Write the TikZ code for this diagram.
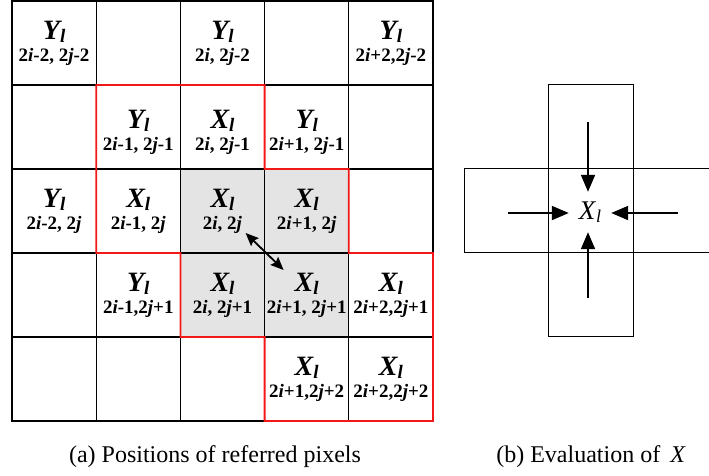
\documentclass[tikz,border=0pt]{standalone}
\usepackage{fontspec}
\setmainfont{Liberation Serif}
\usetikzlibrary{arrows.meta,calc}
\definecolor{cellgray}{RGB}{228,228,228}
\definecolor{winred}{RGB}{242,24,24}
\newcommand\ii{\textit{i}}
\newcommand\jj{\textit{j}}
\newcommand\XY[3][0pt]{{\fontsize{28}{28}\selectfont\bfseries\itshape\rule{0pt}{\dimexpr 19pt+#1\relax}#2\raisebox{-3pt}{\fontsize{19}{19}\selectfont l}}\\{\bfseries #3}}
\newcommand\cellat[4][]{\node[cell,#1] (c#2#3) at ({12+84.2*(#2-0.5)},{1+84*(#3-0.5)}) {#4};}
\tikzset{
  cell/.style={draw=black,line width=1.2pt,minimum width=84.2pt,minimum height=84pt,inner sep=0pt,outer sep=0pt,align=center,font=\fontsize{19}{22}\selectfont},
  shaded/.style={fill=cellgray},
  window/.style={draw=winred,line width=1.8pt},
  dbl/.style={line width=1.8pt,{Stealth[length=13pt,width=11pt,inset=2pt]}-{Stealth[length=13pt,width=11pt,inset=2pt]}},
  inarrow/.style={line width=1.9pt,-{Triangle[length=17pt,width=14pt]}},
  box/.style={draw=black,line width=1pt,inner sep=0pt,outer sep=0pt},
  caption/.style={font=\fontsize{24}{28}\selectfont,inner sep=0pt}
}
\begin{document}
\begin{tikzpicture}[x=1pt,y=-1pt]
\useasboundingbox (0,0) rectangle (709,475);
% row 1
\cellat{1}{1}{\XY{Y}{2\ii-2, 2\jj-2}}
\cellat{2}{1}{}
\cellat{3}{1}{\XY{Y}{2\ii, 2\jj-2}}
\cellat{4}{1}{}
\cellat{5}{1}{\XY{Y}{2\ii+2,2\jj-2}}
% row 2
\cellat{1}{2}{}
\cellat{2}{2}{\XY[10pt]{Y}{2\ii-1, 2\jj-1}}
\cellat{3}{2}{\XY[10pt]{X}{2\ii, 2\jj-1}}
\cellat{4}{2}{\XY[10pt]{Y}{2\ii+1, 2\jj-1}}
\cellat{5}{2}{}
% row 3
\cellat{1}{3}{\XY{Y}{2\ii-2, 2\jj}}
\cellat{2}{3}{\XY{X}{2\ii-1, 2\jj}}
\cellat[shaded]{3}{3}{\XY{X}{2\ii, 2\jj}}
\cellat[shaded]{4}{3}{\XY{X}{2\ii+1, 2\jj}}
\cellat{5}{3}{}
% row 4
\cellat{1}{4}{}
\cellat{2}{4}{\XY{Y}{2\ii-1,2\jj+1}}
\cellat[shaded]{3}{4}{\XY{X}{2\ii, 2\jj+1}}
\cellat[shaded]{4}{4}{\XY{X}{2\ii+1, 2\jj+1}}
\cellat{5}{4}{\XY{X}{2\ii+2,2\jj+1}}
% row 5
\cellat{1}{5}{}
\cellat{2}{5}{}
\cellat{3}{5}{}
\cellat{4}{5}{\XY{X}{2\ii+1,2\jj+2}}
\cellat{5}{5}{\XY{X}{2\ii+2,2\jj+2}}
% red window
\draw[window] (c22.north west) -- (c32.north east) -- (c42.south west) -- (c43.north east)
  -- (c43.south east) -- (c54.north east) -- (c55.south east) -- (c45.south west)
  -- (c45.north west) -- (c34.south west) -- (c34.north west) -- (c23.south west) -- cycle;
% diagonal double arrow
\coordinate (d1) at ($(c33.south east)+(-19,-20)$);
\coordinate (d2) at ($(c33.south east)+(19,17)$);
\draw[dbl] (d1) -- (d2);
% panel (b)
\begin{scope}
\clip (440,0) rectangle (709,475);
\node[box,minimum width=253pt,minimum height=84pt] (hr) at (590.5,210) {};
\node[box,minimum width=85pt,minimum height=252pt] (vr) at (590.5,210) {};
\end{scope}
\node[inner sep=0pt,minimum width=42pt,minimum height=40pt,font=\fontsize{27}{27}\selectfont] (xc) at (590,212) {\textit{X}\raisebox{-3pt}{\fontsize{18}{18}\selectfont\textit{l}}};
\coordinate (ta) at (588,122);
\coordinate (ba) at (588,298);
\coordinate (la) at (508,213);
\coordinate (ra) at (678,213);
\draw[inarrow] (ta) -- (ta |- xc.north);
\draw[inarrow] (ba) -- (ba |- xc.south);
\draw[inarrow] (la) -- (la -| xc.west);
\draw[inarrow] (ra) -- (ra -| xc.east);
% captions
\node[caption] (capa) at (215,457) {(a) Positions of referred pixels};
\node[caption] (capb) at (591,457) {(b) Evaluation of\hspace{10pt}\textit{X}};
\end{tikzpicture}
\end{document}
